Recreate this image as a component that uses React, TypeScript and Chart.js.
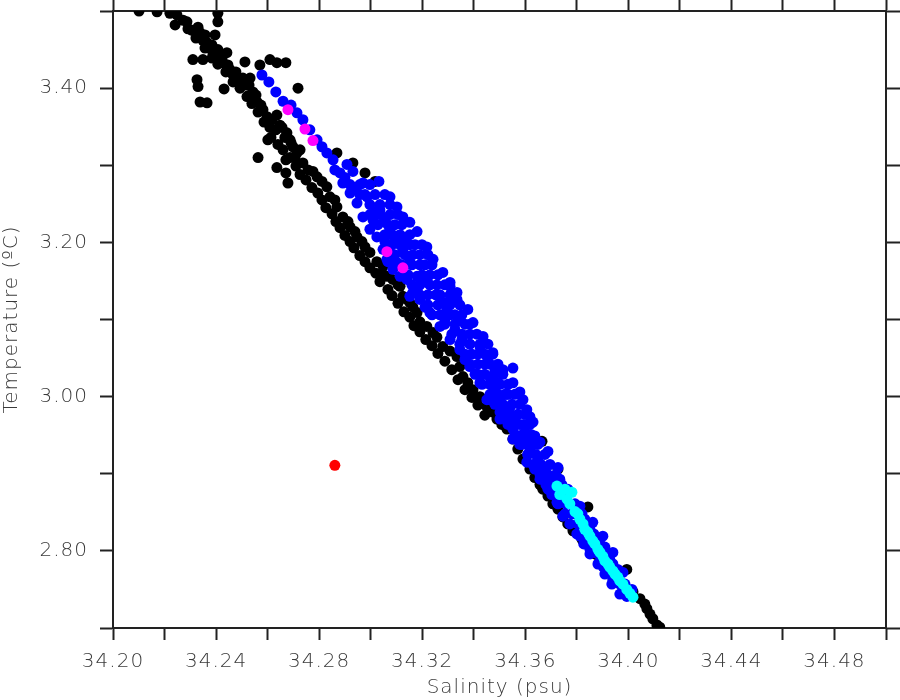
import React, { useEffect, useRef } from 'react';
import { Chart, registerables } from 'chart.js';

Chart.register(...registerables);

// Tick labels shown on the axes
const xTickLabels = ['34.20', '34.24', '34.28', '34.32', '34.36', '34.40', '34.44', '34.48'];
const yTickLabels = ['2.80', '3.00', '3.20', '3.40'];

// [salinity (psu), temperature (°C)]
const blackPoints: [number, number][] = [
  [34.2101, 3.500], [34.2171, 3.499], [34.2221, 3.497], [34.2248, 3.495], [34.2407, 3.497], [34.2407, 3.486], [34.2241, 3.482], [34.2287, 3.486], [34.2291, 3.477], [34.2330, 3.479],
  [34.2338, 3.472], [34.2349, 3.462], [34.2365, 3.459], [34.2376, 3.452], [34.2388, 3.446], [34.2442, 3.446], [34.2310, 3.437], [34.2349, 3.437], [34.2415, 3.440], [34.2427, 3.433],
  [34.2454, 3.424], [34.2512, 3.434], [34.2466, 3.417], [34.2493, 3.411], [34.2532, 3.413], [34.2326, 3.411], [34.2330, 3.402], [34.2431, 3.399], [34.2512, 3.404], [34.2543, 3.395],
  [34.2520, 3.389], [34.2559, 3.382], [34.2338, 3.382], [34.2365, 3.381], [34.2582, 3.372], [34.2598, 3.363], [34.2636, 3.365], [34.2570, 3.430], [34.2609, 3.437], [34.2636, 3.433],
  [34.2671, 3.433], [34.2718, 3.400], [34.2656, 3.349], [34.2675, 3.342], [34.2687, 3.333], [34.2698, 3.324], [34.2714, 3.316], [34.2613, 3.336], [34.2563, 3.310], [34.2671, 3.307],
  [34.2636, 3.297], [34.2671, 3.290], [34.2679, 3.277],
  [34.2396, 3.469], [34.2357, 3.469], [34.2384, 3.456], [34.2407, 3.450], [34.2423, 3.439], [34.2446, 3.430], [34.2477, 3.421], [34.2504, 3.413], [34.2528, 3.404], [34.2555, 3.391], [34.2574, 3.378],
  [34.2617, 3.359], [34.2648, 3.352], [34.2632, 3.346], [34.2667, 3.336], [34.2691, 3.329], [34.2726, 3.320], [34.2706, 3.310], [34.2737, 3.303], [34.2757, 3.294], [34.2776, 3.292],
  [34.2792, 3.285], [34.2811, 3.279], [34.2830, 3.272], [34.2842, 3.259], [34.2861, 3.255], [34.2869, 3.246], [34.2892, 3.233], [34.2912, 3.227], [34.2920, 3.220], [34.2939, 3.214],
  [34.2947, 3.207], [34.2966, 3.201], [34.2978, 3.194], [34.2997, 3.187], [34.3024, 3.175], [34.3048, 3.169], [34.3048, 3.158], [34.3063, 3.156], [34.3086, 3.152], [34.3106, 3.145],
  [34.3114, 3.143], [34.3125, 3.130], [34.3141, 3.126], [34.3152, 3.122], [34.3164, 3.116], [34.3180, 3.109], [34.3191, 3.097], [34.3218, 3.091], [34.3242, 3.083], [34.3257, 3.077],
  [34.3280, 3.065], [34.3308, 3.059], [34.3335, 3.052], [34.3346, 3.039], [34.3358, 3.026], [34.3377, 3.018], [34.3397, 3.009], [34.3424, 3.000], [34.3451, 2.987], [34.3474, 2.980],
  [34.3490, 2.971], [34.3509, 2.964], [34.3529, 2.958], [34.3552, 2.945], [34.3571, 2.932], [34.3591, 2.919], [34.3618, 2.906], [34.3637, 2.895], [34.3657, 2.886], [34.3668, 2.880],
  [34.3688, 2.871], [34.3707, 2.861], [34.3727, 2.854], [34.3746, 2.844], [34.3765, 2.835], [34.3785, 2.826], [34.3820, 2.815], [34.3843, 2.857], [34.3851, 2.805], [34.3870, 2.796],
  [34.3890, 2.789], [34.3909, 2.783], [34.3928, 2.774], [34.3948, 2.766], [34.3967, 2.760], [34.3994, 2.776], [34.3994, 2.750], [34.4018, 2.747], [34.4045, 2.738], [34.4064, 2.731],
  [34.4072, 2.725], [34.4084, 2.718], [34.4095, 2.712], [34.4111, 2.704], [34.4122, 2.701], [34.3665, 2.942], [34.3727, 2.906], [34.2869, 3.316], [34.2931, 3.303], [34.2978, 3.290], [34.3017, 3.279],
  [34.2272, 3.488], [34.2307, 3.475], [34.2322, 3.465], [34.2357, 3.452], [34.2384, 3.439], [34.2407, 3.431], [34.2438, 3.421], [34.2466, 3.408], [34.2493, 3.400], [34.2524, 3.390],
  [34.2539, 3.380], [34.2563, 3.369], [34.2586, 3.356], [34.2609, 3.349], [34.2601, 3.333], [34.2640, 3.327], [34.2660, 3.320], [34.2687, 3.310], [34.2710, 3.299], [34.2726, 3.288],
  [34.2749, 3.281], [34.2772, 3.271], [34.2795, 3.264], [34.2811, 3.255], [34.2826, 3.245], [34.2850, 3.237], [34.2865, 3.227], [34.2881, 3.219], [34.2900, 3.209], [34.2920, 3.201],
  [34.2935, 3.193], [34.2958, 3.183], [34.2978, 3.175], [34.2997, 3.167], [34.3020, 3.160], [34.3036, 3.149], [34.3067, 3.139], [34.3083, 3.131], [34.3106, 3.121], [34.3129, 3.110],
  [34.3152, 3.103], [34.3168, 3.092], [34.3191, 3.084], [34.3214, 3.074], [34.3238, 3.066], [34.3261, 3.056], [34.3288, 3.046], [34.3315, 3.035], [34.3339, 3.022], [34.3366, 3.009],
  [34.3393, 2.999], [34.3416, 2.989], [34.3443, 2.976],
];

const bluePoints: [number, number][] = [
  [34.2578, 3.417], [34.2605, 3.408], [34.2632, 3.395], [34.2660, 3.383], [34.2691, 3.378], [34.2714, 3.368], [34.2737, 3.359], [34.2764, 3.346], [34.2792, 3.333], [34.2811, 3.324],
  [34.2830, 3.316], [34.2854, 3.307], [34.2908, 3.301], [34.2931, 3.292], [34.2881, 3.290], [34.2892, 3.277], [34.2970, 3.277], [34.3032, 3.279], [34.2920, 3.264], [34.3075, 3.259],
  [34.2986, 3.259], [34.2947, 3.251], [34.3102, 3.246], [34.3036, 3.242], [34.3125, 3.233], [34.2970, 3.233], [34.3009, 3.229], [34.3152, 3.226], [34.3180, 3.214], [34.3075, 3.217],
  [34.2997, 3.217], [34.3218, 3.194], [34.3242, 3.178], [34.3280, 3.161], [34.3308, 3.148], [34.3335, 3.135], [34.3125, 3.191], [34.3152, 3.174], [34.3180, 3.156], [34.3218, 3.148],
  [34.3048, 3.191], [34.3102, 3.174], [34.3141, 3.152], [34.3180, 3.139], [34.3024, 3.207], [34.3075, 3.187],
  [34.2861, 3.294], [34.2900, 3.284], [34.2939, 3.271], [34.2958, 3.262], [34.2997, 3.249], [34.3017, 3.239], [34.3055, 3.229], [34.3094, 3.223], [34.3114, 3.210], [34.3133, 3.201],
  [34.3055, 3.201], [34.3094, 3.204], [34.3172, 3.197], [34.3191, 3.184], [34.3211, 3.171], [34.3230, 3.158], [34.3257, 3.145], [34.3269, 3.132], [34.3288, 3.122], [34.3191, 3.126],
  [34.3211, 3.116], [34.3238, 3.106], [34.3152, 3.130], [34.3114, 3.156], [34.3086, 3.165], [34.3067, 3.175],
  [34.3063, 3.178], [34.3164, 3.135], [34.3230, 3.109], [34.3269, 3.091], [34.3308, 3.074], [34.3346, 3.061], [34.3385, 3.039], [34.3424, 3.018], [34.3463, 2.996], [34.3502, 2.980],
  [34.3552, 2.958], [34.3591, 2.941],
  [34.3308, 3.143], [34.3335, 3.126], [34.3377, 3.113], [34.3397, 3.096], [34.3436, 3.078], [34.3474, 3.057], [34.3513, 3.035], [34.3552, 3.018], [34.3579, 3.006], [34.3606, 2.983],
  [34.3630, 2.967], [34.3657, 2.941],
  [34.3288, 3.100], [34.3327, 3.087], [34.3354, 3.074], [34.3385, 3.068], [34.3416, 3.055], [34.3443, 3.042], [34.3405, 3.029], [34.3463, 3.025], [34.3482, 3.009], [34.3502, 2.996],
  [34.3521, 3.003], [34.3540, 2.986], [34.3560, 2.973], [34.3579, 2.964], [34.3599, 2.954], [34.3610, 2.945], [34.3571, 2.945], [34.3540, 2.971], [34.3482, 3.033], [34.3366, 3.094],
  [34.3327, 3.106], [34.3296, 3.113], [34.3346, 3.100], [34.3385, 3.081], [34.3424, 3.065], [34.3455, 3.051], [34.3494, 3.018], [34.3533, 3.003], [34.3366, 3.048],
  [34.3552, 3.037], [34.3591, 2.996], [34.3618, 2.974], [34.3637, 2.949], [34.3688, 2.929], [34.3727, 2.908], [34.3765, 2.880], [34.3812, 2.858], [34.3862, 2.837], [34.3901, 2.819],
  [34.3940, 2.798], [34.3979, 2.772], [34.4014, 2.750], [34.3994, 2.741],
  [34.3451, 2.996], [34.3502, 2.971], [34.3552, 2.945], [34.3606, 2.915], [34.3657, 2.893], [34.3723, 2.863], [34.3746, 2.845], [34.3812, 2.819], [34.3851, 2.802], [34.3901, 2.780],
  [34.3940, 2.763], [34.3979, 2.747],
  [34.3521, 2.983], [34.3560, 2.964], [34.3579, 2.938], [34.3618, 2.932], [34.3649, 2.919], [34.3676, 2.906], [34.3696, 2.893], [34.3715, 2.880], [34.3688, 2.880], [34.3734, 2.893],
  [34.3754, 2.873], [34.3773, 2.861], [34.3793, 2.848], [34.3831, 2.841], [34.3851, 2.828], [34.3878, 2.815], [34.3909, 2.805], [34.3928, 2.789], [34.3959, 2.776], [34.3987, 2.757],
  [34.3637, 2.906], [34.3610, 2.925],
  [34.2920, 3.275], [34.2958, 3.275], [34.2997, 3.275], [34.2978, 3.262], [34.3017, 3.262], [34.3055, 3.262], [34.3036, 3.249], [34.3075, 3.249],
  [34.2997, 3.236], [34.3036, 3.236], [34.3075, 3.236], [34.3106, 3.236], [34.3028, 3.223], [34.3067, 3.223], [34.3121, 3.223],
  [34.3055, 3.210], [34.3083, 3.210], [34.3152, 3.210], [34.3083, 3.197], [34.3114, 3.197], [34.3152, 3.197], [34.3199, 3.197],
  [34.3094, 3.184], [34.3133, 3.184], [34.3164, 3.184], [34.3222, 3.184], [34.3121, 3.171], [34.3160, 3.171], [34.3191, 3.171], [34.3238, 3.171],
  [34.3145, 3.158], [34.3199, 3.158], [34.3261, 3.158], [34.3160, 3.145], [34.3191, 3.145], [34.3230, 3.145], [34.3288, 3.145],
  [34.3191, 3.132], [34.3222, 3.132], [34.3253, 3.132], [34.3308, 3.132], [34.3222, 3.119], [34.3261, 3.119], [34.3308, 3.119], [34.3346, 3.119],
  [34.3269, 3.106], [34.3308, 3.106], [34.3354, 3.106], [34.3288, 3.094], [34.3327, 3.094], [34.3385, 3.094],
  [34.3315, 3.081], [34.3354, 3.081], [34.3412, 3.081], [34.3346, 3.068], [34.3385, 3.068], [34.3424, 3.068], [34.3455, 3.068],
  [34.3366, 3.055], [34.3393, 3.055], [34.3443, 3.055], [34.3474, 3.055], [34.3385, 3.042], [34.3416, 3.042], [34.3463, 3.042], [34.3494, 3.042],
  [34.3416, 3.029], [34.3443, 3.029], [34.3482, 3.029], [34.3513, 3.029], [34.3432, 3.016], [34.3463, 3.016], [34.3502, 3.016], [34.3533, 3.016],
  [34.3463, 3.003], [34.3494, 3.003], [34.3529, 3.003], [34.3560, 3.003], [34.3482, 2.990], [34.3513, 2.990], [34.3548, 2.990], [34.3579, 2.990],
  [34.3509, 2.977], [34.3540, 2.977], [34.3571, 2.977], [34.3599, 2.977], [34.3533, 2.964], [34.3564, 2.964], [34.3595, 2.964], [34.3618, 2.964],
  [34.3560, 2.951], [34.3591, 2.951], [34.3622, 2.951], [34.3587, 2.938], [34.3618, 2.938], [34.3649, 2.938],
  [34.3610, 2.925], [34.3641, 2.925], [34.3676, 2.925], [34.3630, 2.912], [34.3661, 2.912], [34.3696, 2.912],
  [34.3657, 2.899], [34.3688, 2.899], [34.3719, 2.899], [34.3680, 2.886], [34.3707, 2.886], [34.3742, 2.886],
  [34.3703, 2.873], [34.3734, 2.873], [34.3727, 2.861], [34.3758, 2.861], [34.3793, 2.861],
  [34.3754, 2.848], [34.3781, 2.848], [34.3820, 2.848], [34.3773, 2.835], [34.3804, 2.835], [34.3843, 2.835],
  [34.3800, 2.822], [34.3831, 2.822], [34.3866, 2.822], [34.3827, 2.809], [34.3859, 2.809], [34.3890, 2.809],
  [34.3851, 2.796], [34.3882, 2.796], [34.3913, 2.796], [34.3882, 2.783], [34.3913, 2.783], [34.3940, 2.783],
  [34.3909, 2.770], [34.3936, 2.770], [34.3963, 2.770], [34.3936, 2.757], [34.3967, 2.757], [34.3967, 2.744], [34.3998, 2.744],
];

const cyanPoints: [number, number][] = [
  [34.3723, 2.884], [34.3734, 2.873], [34.3762, 2.867], [34.3781, 2.876], [34.3793, 2.851], [34.3812, 2.841], [34.3831, 2.828], [34.3851, 2.819], [34.3870, 2.809], [34.3890, 2.798],
  [34.3909, 2.787], [34.3928, 2.779], [34.3948, 2.770], [34.3967, 2.761], [34.3994, 2.750], [34.4018, 2.740], [34.3754, 2.880], [34.3773, 2.861], [34.3804, 2.848], [34.3824, 2.835],
  [34.3843, 2.824], [34.3862, 2.813], [34.3882, 2.802], [34.3901, 2.793], [34.3921, 2.783], [34.3940, 2.774], [34.3959, 2.766], [34.3979, 2.757], [34.4006, 2.745],
];

const magentaPoints: [number, number][] = [
  [34.2679, 3.372], [34.2745, 3.347], [34.2776, 3.332], [34.3063, 3.188], [34.3125, 3.167],
];

const redPoints: [number, number][] = [[34.2861, 2.911]];

export default function App() {
  const ref = useRef<HTMLCanvasElement>(null);

  useEffect(() => {
    document.body.style.margin = '0';
    const canvas = ref.current;
    if (!canvas) return;

    const toPts = (arr: [number, number][]) => arr.map(([x, y]) => ({ x, y }));
    const ds = (label: string, pts: [number, number][], color: string, order: number) => ({
      label,
      data: toPts(pts),
      backgroundColor: color,
      borderColor: color,
      pointRadius: 5.5,
      pointHoverRadius: 5.5,
      pointBorderWidth: 0,
      borderWidth: 0,
      showLine: false,
      order,
      clip: 0,
    });

    const font = { family: "'DejaVu Sans', sans-serif", size: 20, weight: 200 as any };
    const textColor = '#3a3a3a';
    const axisColor = '#222';
    const noPad = (s: any) => {
      s.paddingTop = 0;
      s.paddingBottom = 0;
      s.paddingLeft = 0;
      s.paddingRight = 0;
    };

    const spacing = {
      id: 'letterSpacing',
      beforeDraw: (c: any) => {
        try { c.ctx.letterSpacing = '1px'; } catch (e) { /* unsupported */ }
      },
    };

    const chart = new Chart(canvas, {
      type: 'scatter',
      data: {
        datasets: [
          ds('Observed', blackPoints, '#000000', 5),
          ds('Model', bluePoints, '#0000ff', 4),
          ds('Deep', cyanPoints, '#00ffff', 3),
          ds('Selected', magentaPoints, '#ff00ff', 2),
          ds('Outlier', redPoints, '#ff0000', 1),
        ] as any,
      },
      plugins: [spacing],
      options: {
        responsive: false,
        animation: false,
        events: [],
        layout: { padding: 0 },
        plugins: { legend: { display: false }, tooltip: { enabled: false } },
        scales: {
          x: {
            type: 'linear',
            position: 'bottom',
            min: 34.2,
            max: 34.5,
            ticks: {
              stepSize: 0.02,
              autoSkip: false,
              maxRotation: 0,
              color: textColor,
              font,
              padding: 10,
              callback: (v: any) => {
                const s = Number(v).toFixed(2);
                return xTickLabels.includes(s) ? s : '';
              },
            },
            grid: { drawOnChartArea: false, drawTicks: true, tickLength: 12, tickWidth: 2, tickColor: axisColor },
            border: { display: true, color: axisColor, width: 2 },
            title: { display: true, text: 'Salinity (psu)', color: textColor, font, padding: 0 },
            afterFit: (s: any) => { s.height = 72; noPad(s); },
          },
          x2: {
            type: 'linear',
            position: 'top',
            min: 34.2,
            max: 34.5,
            ticks: { stepSize: 0.02, display: false, autoSkip: false },
            grid: { drawOnChartArea: false, drawTicks: true, tickLength: 11, tickWidth: 2, tickColor: axisColor },
            border: { display: true, color: axisColor, width: 2 },
            afterFit: (s: any) => { s.height = 11; noPad(s); },
          },
          y: {
            type: 'linear',
            position: 'left',
            min: 2.7,
            max: 3.5,
            ticks: {
              stepSize: 0.1,
              autoSkip: false,
              color: textColor,
              font,
              padding: 12,
              callback: (v: any) => {
                const s = Number(v).toFixed(2);
                return yTickLabels.includes(s) ? s : '';
              },
            },
            grid: { drawOnChartArea: false, drawTicks: true, tickLength: 13, tickWidth: 2, tickColor: axisColor },
            border: { display: true, color: axisColor, width: 2 },
            title: { display: true, text: 'Temperature (ºC)', color: textColor, font, padding: 0 },
            afterFit: (s: any) => { s.width = 113; noPad(s); },
          },
          y2: {
            type: 'linear',
            position: 'right',
            min: 2.7,
            max: 3.5,
            ticks: { stepSize: 0.1, display: false, autoSkip: false },
            grid: { drawOnChartArea: false, drawTicks: true, tickLength: 14, tickWidth: 2, tickColor: axisColor },
            border: { display: true, color: axisColor, width: 2 },
            afterFit: (s: any) => { s.width = 14; noPad(s); },
          },
        } as any,
      },
    });

    return () => chart.destroy();
  }, []);

  return (
    <div style={{ width: 900, height: 700 }}>
      <canvas ref={ref} width={900} height={700} style={{ display: 'block' }} />
    </div>
  );
}
